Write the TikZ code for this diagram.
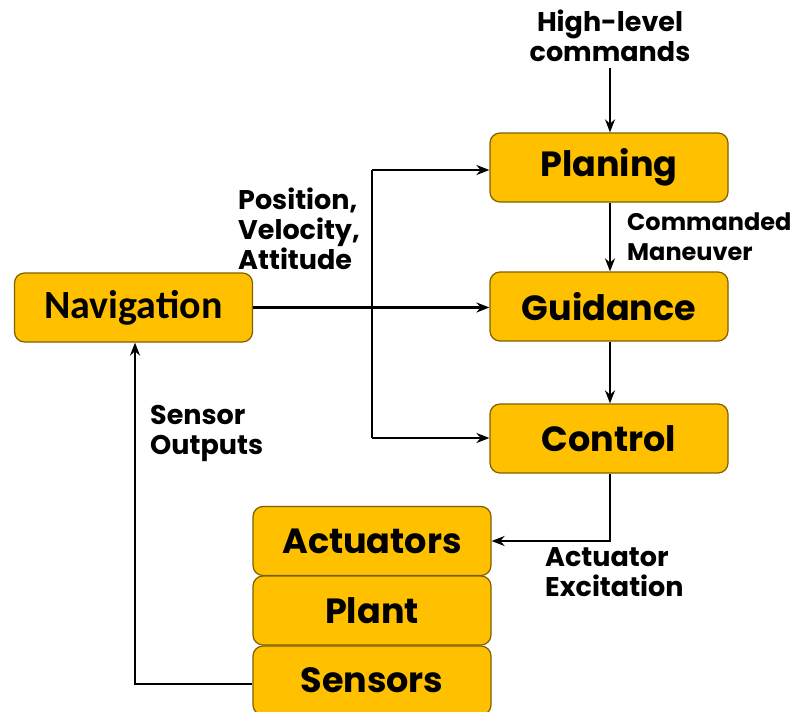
\documentclass[tikz,border=0pt]{standalone}
\usepackage{fontspec}
\setmainfont{Poppins}
\newfontfamily\navfont{Carlito}
\usetikzlibrary{arrows.meta}
\definecolor{boxfill}{HTML}{FFC000}
\definecolor{boxline}{HTML}{7F6000}
\begin{document}
\begin{tikzpicture}[x=1pt,y=-1pt,
  block/.style={draw=boxline,fill=boxfill,line width=1.2pt,rounded corners=10pt,
    minimum width=238pt,minimum height=69pt,inner sep=0pt,
    font=\fontsize{35}{40}\selectfont\bfseries},
  lbl/.style={font=\fontsize{27}{30}\selectfont\bfseries,align=left,inner sep=0pt},
  conn/.style={line width=2.2pt,-{Stealth[length=13pt,width=10pt]}},
  wire/.style={line width=2.2pt}]
\useasboundingbox (0,0) rectangle (793,712);
% main blocks
\node[block] (plan) at (609,167.5) {Planing};
\node[block] (guid) at (609,306.5) {Guidance};
\node[block] (ctrl) at (609,438.5) {Control};
\node[block,font=\fontsize{40}{42}\selectfont\navfont\bfseries] (nav) at (133.5,307.5) {Navigation};
\node[block] (act) at (372,541) {Actuators};
\node[block] (plant) at (372,610.5) {Plant};
\node[block] (sens) at (372,680.5) {Sensors};
% labels (anchored on the baseline of their last line)
\node[lbl,align=center,anchor=base] (hl) at (610,61) {High-level\\commands};
\node[lbl,anchor=base west,font=\fontsize{24}{30}\selectfont\bfseries] (cm) at (627,260) {Commanded\\Maneuver};
\node[lbl,anchor=base west] (pva) at (238,269) {Position,\\Velocity,\\Attitude};
\node[lbl,anchor=base west] (so) at (150,454) {Sensor\\Outputs};
\node[lbl,anchor=base west] (ae) at (545,596) {Actuator\\Excitation};
% branch points
\coordinate (bt) at (372,170);
\coordinate (bb) at (372,438);
\coordinate (hc) at (610,68);
\coordinate (sc) at (135,684);
% connectors
\draw[conn] (hc) -- (hc |- plan.north);
\draw[conn] ([xshift=1pt]plan.south) -- ([xshift=1pt]guid.north);
\draw[conn] ([xshift=1pt]guid.south) -- ([xshift=1pt]ctrl.north);
\draw[conn] (nav.east) -- (guid.west |- nav.east);
\draw[wire] (bb) -- (bt);
\draw[conn] (bt) -- (plan.west |- bt);
\draw[conn] (bb) -- (ctrl.west |- bb);
\draw[conn] ([xshift=1pt]ctrl.south) |- (act.east);
\draw[conn] (sens.west |- sc) -- (sc) -- (sc |- nav.south);
\end{tikzpicture}
\end{document}
